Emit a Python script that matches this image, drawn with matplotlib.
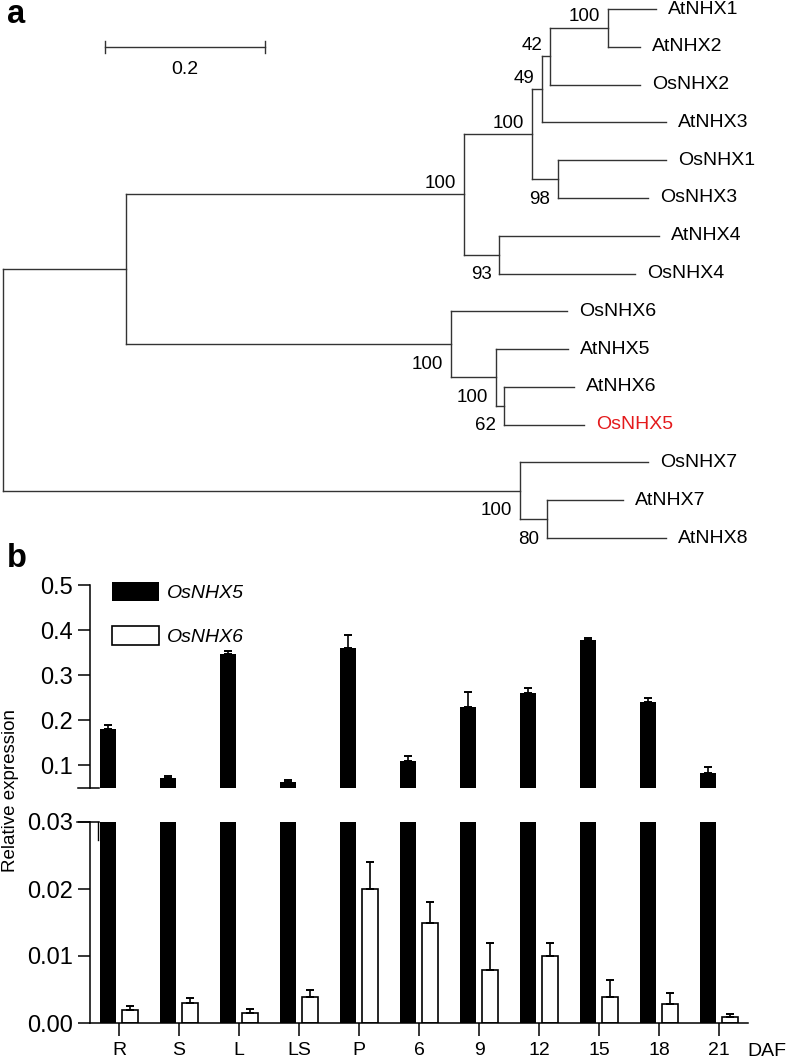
import numpy as np
import matplotlib.pyplot as plt

plt.rcParams['font.family'] = ['Liberation Sans', 'DejaVu Sans']

# ---- panel a: neighbour-joining tree ----
# leaf = (name, branch length); clade = ([children], branch length, bootstrap)
clade_F = ([('AtNHX1', 0.060), ('AtNHX2', 0.040)], 0.0725, 100)
clade_E = ([clade_F, ('OsNHX2', 0.1125)], 0.010, 42)
clade_D = ([clade_E, ('AtNHX3', 0.155)], 0.0125, 49)
clade_G = ([('OsNHX1', 0.135), ('OsNHX3', 0.1125)], 0.0325, 98)
clade_C = ([clade_D, clade_G], 0.085, 100)
clade_H = ([('AtNHX4', 0.199), ('OsNHX4', 0.170)], 0.044, 93)
clade_B = ([clade_C, clade_H], 0.4225, 100)
clade_K = ([('AtNHX6', 0.0875), ('OsNHX5', 0.100)], 0.010, 62)
clade_J = ([('AtNHX5', 0.090), clade_K], 0.056, 100)
clade_I = ([('OsNHX6', 0.145), clade_J], 0.406, 100)
clade_A = ([clade_B, clade_I], 0.154, None)
clade_M = ([('AtNHX7', 0.095), ('AtNHX8', 0.149)], 0.034, 80)
clade_L = ([('OsNHX7', 0.160), clade_M], 0.646, 100)
tree = ([clade_A, clade_L], 0.0, None)
highlight = 'OsNHX5'
scale_len = 0.2

# ---- panel b: expression data ----
tissues = ['R', 'S', 'L', 'LS', 'P', '6', '9', '12', '15', '18', '21']
nhx5 = [0.180, 0.073, 0.347, 0.064, 0.360, 0.109, 0.229, 0.260, 0.378, 0.240, 0.084]
nhx5_err = [0.010, 0.004, 0.007, 0.003, 0.029, 0.013, 0.033, 0.011, 0.004, 0.009, 0.012]
nhx6 = [0.0019, 0.0030, 0.0015, 0.0039, 0.0200, 0.0149, 0.0079, 0.0100, 0.0039, 0.0029, 0.0009]
nhx6_err = [0.0006, 0.0008, 0.0006, 0.0010, 0.0040, 0.0031, 0.0040, 0.0019, 0.0025, 0.0016, 0.0005]

W, H = 787, 1059
fig = plt.figure(figsize=(W / 100, H / 100), dpi=100)

# tree axes: x in substitutions/site, y in leaf index
ax = fig.add_axes([0, 1 - 560 / H, 1, 560 / H])
ax.set_xlim(-3 / 800, 784 / 800)
ax.set_ylim(551 / 37.79, -9 / 37.79)
ax.axis('off')

line_kw = dict(color='#333333', lw=1.0, solid_capstyle='projecting')
leaf_count = [0]


def draw(node, x_parent, upper):
    if isinstance(node[0], str):
        name, length = node
        y = leaf_count[0]
        leaf_count[0] += 1
        x = x_parent + length
        ax.plot([x_parent, x], [y, y], **line_kw)
        ax.annotate(name, (x, y), xytext=(12, 0), textcoords='offset pixels',
                    va='center', ha='left', fontsize=14,
                    color='#e41a1c' if name == highlight else 'black')
        return y
    children, length, support = node
    x = x_parent + length
    ys = [draw(c, x, i == 0) for i, c in enumerate(children)]
    y = (ys[0] + ys[-1]) / 2
    ax.plot([x, x], [ys[0], ys[-1]], **line_kw)
    if length > 0:
        ax.plot([x_parent, x], [y, y], **line_kw)
    if support is not None:
        dy = 11 if upper else -20
        ax.annotate(str(support), (x, y), xytext=(-8, dy), textcoords='offset pixels',
                    ha='right', va='center', fontsize=13.5)
    return y


draw(tree, 0.0, True)

# scale bar
sx0, sy = 102 / 800, 1.006
ax.plot([sx0, sx0 + scale_len], [sy, sy], color='#333333', lw=1.0)
for xe in (sx0, sx0 + scale_len):
    ax.plot([xe, xe], [sy - 0.15, sy + 0.15], color='#333333', lw=1.0)
ax.text(sx0 + scale_len / 2, sy + 0.6, str(scale_len), ha='center', va='center', fontsize=14)

# ---- broken-axis bar chart ----
x = np.arange(len(tissues))
off, width = 0.18, 0.275
left, axw = 90 / W, 658 / W
ax_top = fig.add_axes([left, 1 - 788 / H, axw, 203 / H])
ax_bot = fig.add_axes([left, 1 - 1023 / H, axw, 201 / H])

for a in (ax_top, ax_bot):
    b5 = a.bar(x - off, nhx5, width, color='black', label='OsNHX5')
    b6 = a.bar(x + off, nhx6, width, facecolor='white', edgecolor='black', lw=1.2,
               label='OsNHX6')
    a.errorbar(x - off, nhx5, yerr=[np.zeros(len(x)), nhx5_err], fmt='none',
               ecolor='black', elinewidth=1.2, capsize=2.6, capthick=1.4)
    a.errorbar(x + off, nhx6, yerr=[np.zeros(len(x)), nhx6_err], fmt='none',
               ecolor='black', elinewidth=1.2, capsize=2.6, capthick=1.4)
    a.set_xlim(-29 / 60, 629 / 60)
    for s in ('top', 'right'):
        a.spines[s].set_visible(False)
    a.spines['left'].set_linewidth(1.1)
    a.spines['bottom'].set_linewidth(1.1)
    a.tick_params(axis='y', length=8.6, width=1.1, labelsize=17, pad=4)

ax_top.set_ylim(0.05, 0.5)
ax_top.set_yticks([0.1, 0.2, 0.3, 0.4, 0.5])
ax_top.set_yticklabels(['0.1', '0.2', '0.3', '0.4', '0.5'])
ax_top.spines['bottom'].set_visible(False)
ax_top.set_xticks([])
ax_top.plot([-12 / 658, 9 / 658], [0, 0], transform=ax_top.transAxes,
            color='black', lw=1.1, clip_on=False)

ax_bot.set_ylim(0, 0.03)
ax_bot.set_yticks([0, 0.01, 0.02, 0.03])
ax_bot.set_yticklabels(['0.00', '0.01', '0.02', '0.03'])
ax_bot.set_xticks(x)
ax_bot.set_xticklabels(tissues)
ax_bot.tick_params(axis='x', length=9, width=1.1, labelsize=14, pad=5)
ax_bot.plot([-13 / 658, 9 / 658], [1, 1], transform=ax_bot.transAxes,
            color='black', lw=1.1, clip_on=False)
ax_bot.plot([8 / 658, 8 / 658], [1, 1 - 18 / 201], transform=ax_bot.transAxes,
            color='black', lw=1.0, clip_on=False)

ax_top.legend(handles=[b5, b6], loc='upper left', bbox_to_anchor=(112 / W, 1 - 582 / H),
              bbox_transform=fig.transFigure, frameon=False, borderpad=0,
              borderaxespad=0, handlelength=2.4, handleheight=1.1,
              handletextpad=0.4, labelspacing=1.25,
              prop={'style': 'italic', 'size': 14})

fig.text(767 / W, 1 - 1052 / H, 'DAF', ha='center', va='center', fontsize=14)
fig.text(11 / W, 1 - 790 / H, 'Relative expression', rotation=90,
         ha='center', va='center', fontsize=13.5)

fig.text(7 / W, 1 - 23 / H, 'a', fontsize=23.5, fontweight='bold', va='baseline')
fig.text(7 / W, 1 - 567 / H, 'b', fontsize=23.5, fontweight='bold', va='baseline')

fig.savefig('out.png', dpi=100)
